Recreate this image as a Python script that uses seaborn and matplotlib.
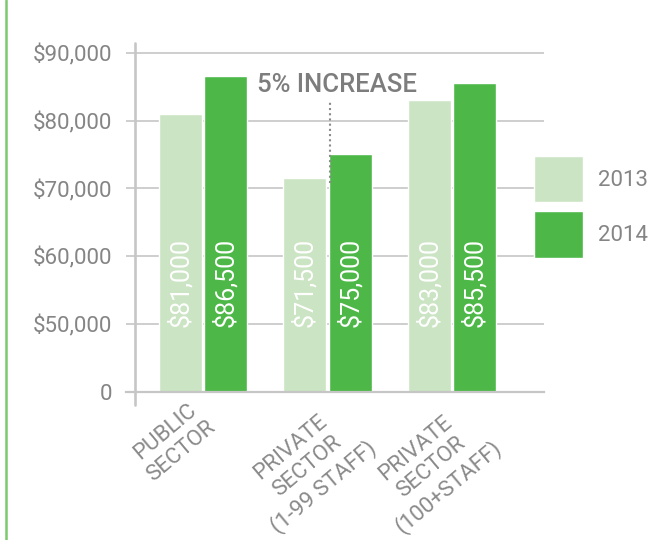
import pandas as pd
import seaborn as sns
import matplotlib.pyplot as plt
from matplotlib.lines import Line2D
from matplotlib.transforms import ScaledTranslation

# data
sectors = ['PUBLIC\nSECTOR', 'PRIVATE\nSECTOR\n(1-99 STAFF)', 'PRIVATE\nSECTOR\n(100+STAFF)']
years = ['2013', '2014']
salary_2013 = [81000, 71500, 83000]
salary_2014 = [86500, 75000, 85500]
bar_text_2013 = ['$81,000', '$71,500', '$83,000']
bar_text_2014 = ['$86,500', '$75,000', '$85,500']
y_ticks = [40000, 50000, 60000, 70000, 80000, 90000]
y_tick_labels = ['0', '$50,000', '$60,000', '$70,000', '$80,000', '$90,000']

df = pd.DataFrame({
    'sector': sectors * 2,
    'year': [years[0]] * 3 + [years[1]] * 3,
    'salary': salary_2013 + salary_2014,
})

sns.set_style('white')
plt.rcParams['font.family'] = ['Roboto', 'DejaVu Sans']

light = '#cbe4c3'
dark = '#4db848'
gray_txt = '#858585'
grid_col = '#c6c6c6'

fig = plt.figure(figsize=(6.71, 5.40), dpi=100)
ax = fig.add_axes([0.1878, 0.274, 0.623, 0.647])

sns.barplot(data=df, x='sector', y='salary', hue='year', palette=[light, dark],
            width=0.73, gap=0.055, ax=ax, saturation=1)

ax.set_xlim(-0.618, 2.739)
ax.set_ylim(40000, 91474)
ax.set_yticks(y_ticks)
ax.set_yticklabels(y_tick_labels)
ax.set_xlabel('')
ax.set_ylabel('')

ax.yaxis.grid(True, color=grid_col, lw=1.2)
ax.xaxis.grid(False)
ax.set_axisbelow(True)
for s in ['top', 'right', 'left']:
    ax.spines[s].set_visible(False)
ax.spines['bottom'].set_color(grid_col)
ax.spines['bottom'].set_linewidth(1.6)

ax.tick_params(axis='y', length=0, pad=10, labelsize=16, labelcolor=gray_txt)
ax.tick_params(axis='x', length=0, pad=4, labelsize=16, labelcolor='#8a8a8a')
shifts = [-30, -20, -20]
for lab, dx in zip(ax.get_xticklabels(), shifts):
    lab.set_rotation(40)
    lab.set_ha('center')
    lab.set_multialignment('center')
    lab.set_linespacing(1.25)
    lab.set_transform(lab.get_transform() + ScaledTranslation(dx / 100, 0, fig.dpi_scale_trans))

# vertical axis line (sits a bit right of the grid start)
ax.plot([-0.546, -0.546], [38084, 91474], color=grid_col, lw=1.9, clip_on=False, zorder=3)

# value labels inside bars
for cont, texts in zip(ax.containers, [bar_text_2013, bar_text_2014]):
    for bar, t in zip(cont, texts):
        ax.text(bar.get_x() + bar.get_width() / 2, 49600, t, rotation=90,
                ha='center', va='bottom', color='white', fontsize=18)

# annotation
mid_bar = ax.containers[1][1]
ax.plot([mid_bar.get_x() + 0.008] * 2, [70750, 82800], color='#8a8a8a', lw=1.5,
        ls=(0, (1, 1.5)))
ax.text(0.434, 84250, '5% INCREASE', color='#7d7d7d', fontsize=18.5,
        fontweight='medium', ha='left', va='baseline')

handles, labels = ax.get_legend_handles_labels()
ax.legend(handles, labels, loc='upper left', bbox_to_anchor=(534 / 671, 1 - 156 / 540),
          bbox_transform=fig.transFigure, frameon=False, fontsize=16,
          handlelength=2.2, handleheight=2.84, labelspacing=0.4,
          handletextpad=0.68, borderpad=0, borderaxespad=0, labelcolor=gray_txt)

fig.add_artist(Line2D([6 / 671, 6 / 671], [0, 1], transform=fig.transFigure,
                      color='#7dc96f', lw=1.8))

fig.savefig('out.png', dpi=100)
